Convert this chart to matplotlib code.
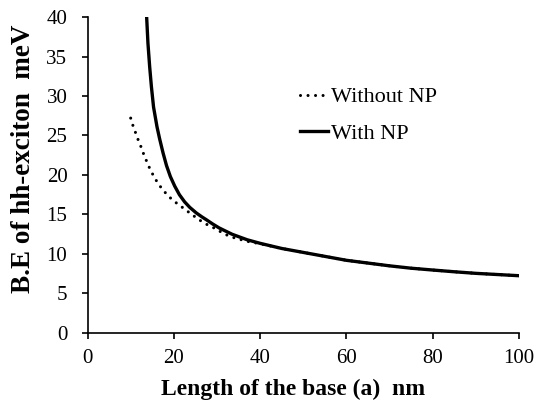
import numpy as np
import matplotlib
matplotlib.use('Agg')
import matplotlib.pyplot as plt

plt.rcParams['font.family'] = ['Liberation Serif', 'DejaVu Serif']

# values
x_without = [10.0, 10.5, 11.1, 11.7, 12.3, 12.9, 13.5, 14.1, 14.8, 15.6, 16.5,
             17.5, 18.6, 19.8, 21.2, 22.5, 23.9, 25.2, 26.5, 28.1, 29.3, 30.9,
             32.3, 33.7, 35.0, 37.0, 40, 45, 50, 55, 60, 65, 70, 75, 80, 85,
             90, 95, 100]
y_without = [27.2, 26.3, 25.4, 24.5, 23.7, 22.8, 22.0, 21.2, 20.4, 19.6, 18.8,
             18.1, 17.4, 16.8, 16.2, 15.7, 15.1, 14.6, 14.1, 13.6, 13.3, 12.8,
             12.4, 12.1, 11.9, 11.6, 11.3, 10.7, 10.2, 9.7, 9.2, 8.85, 8.5,
             8.2, 7.97, 7.75, 7.55, 7.4, 7.25]

x_with = [13.7, 14.0, 14.4, 14.8, 15.3, 16.1, 16.7, 17.5, 18.3, 19.2, 20.2,
          21.3, 22.5, 23.7, 25.2, 26.5, 27.5, 29.0, 30.5, 32.0, 33.5, 35.0,
          37.0, 40, 45, 50, 55, 60, 65, 70, 75, 80, 85, 90, 95, 100]
y_with = [40.0, 36.7, 33.7, 31.2, 28.6, 26.1, 24.6, 22.8, 21.2, 19.8, 18.6,
          17.5, 16.6, 15.9, 15.2, 14.7, 14.35, 13.8, 13.3, 12.9, 12.5, 12.2,
          11.8, 11.35, 10.7, 10.2, 9.7, 9.2, 8.85, 8.5, 8.2, 7.97, 7.75, 7.55,
          7.4, 7.25]

x_ticks = [0, 20, 40, 60, 80, 100]
y_ticks = [0, 5, 10, 15, 20, 25, 30, 35, 40]

fig = plt.figure(figsize=(5.38, 4.01), dpi=100)
ax = fig.add_axes([0.1627, 0.1696, 0.802, 0.788])

ax.plot(x_without, y_without, color='black', lw=2.2,
        linestyle=(0, (0.01, 2.45)), dash_capstyle='round', label='Without NP')
ax.plot(x_with, y_with, color='black', lw=2.4, label='With NP')

ax.set_xlim(0, 100)
ax.set_ylim(0, 40)
ax.set_xticks(x_ticks)
ax.set_yticks(y_ticks)
ax.spines['top'].set_visible(False)
ax.spines['right'].set_visible(False)
ax.spines['left'].set_linewidth(1.2)
ax.spines['bottom'].set_linewidth(1.2)
ax.tick_params(direction='out', length=4.5, width=1.2, labelsize=15)
ax.tick_params(axis='y', pad=10)
ax.tick_params(axis='x', pad=7)

ax.set_xlabel('Length of the base (a)  nm', fontsize=17, fontweight='bold')
ax.set_ylabel('B.E of hh-exciton  meV', fontsize=19.5, fontweight='bold')
ax.xaxis.set_label_coords(0.476, -0.145)
ax.yaxis.set_label_coords(-0.12, 0.55)

ax.legend(loc='center left', bbox_to_anchor=(300 / 538, 1 - 115.5 / 401),
          bbox_transform=fig.transFigure, frameon=False, fontsize=16,
          handlelength=1.25, handletextpad=0.15, labelspacing=0.73,
          borderaxespad=0, borderpad=0)

fig.savefig('out.png', dpi=100)
